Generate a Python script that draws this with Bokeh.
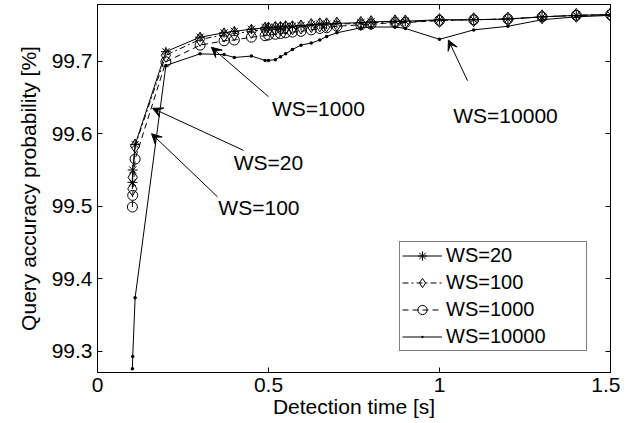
from bokeh.plotting import figure
from bokeh.models import (LinearAxis, FixedTicker, Range1d, Arrow, VeeHead, Legend,
                          LegendItem, ColumnDataSource)
from bokeh.core.properties import value
from bokeh.embed import file_html
from bokeh.resources import INLINE

# ---- data ----
detection_time = [0.102, 0.103, 0.11, 0.2, 0.3, 0.37, 0.4, 0.45, 0.49, 0.5, 0.52, 0.535,
                  0.55, 0.57, 0.595, 0.625, 0.65, 0.67, 0.7, 0.77, 0.8, 0.87, 0.9, 1.0,
                  1.1, 1.2, 1.3, 1.4, 1.5]
ws20 = [99.533, 99.550, 99.585, 99.713, 99.733, 99.739, 99.741, 99.744, 99.746, 99.746,
        99.747, 99.747, 99.748, 99.748, 99.749, 99.750, 99.751, 99.751, 99.752, 99.753,
        99.754, 99.755, 99.755, 99.757, 99.757, 99.758, 99.761, 99.763, 99.764]
ws100 = [99.524, 99.540, 99.583, 99.708, 99.730, 99.736, 99.738, 99.741, 99.744, 99.744,
         99.745, 99.745, 99.746, 99.746, 99.747, 99.749, 99.750, 99.750, 99.751, 99.752,
         99.753, 99.754, 99.754, 99.756, 99.757, 99.758, 99.761, 99.763, 99.764]
ws1000 = [99.499, 99.515, 99.565, 99.699, 99.722, 99.728, 99.729, 99.733, 99.735, 99.736,
          99.737, 99.738, 99.739, 99.740, 99.741, 99.743, 99.745, 99.746, 99.748, 99.750,
          99.751, 99.753, 99.753, 99.756, 99.757, 99.758, 99.761, 99.763, 99.764]
ws10000 = [99.276, 99.293, 99.374, 99.694, 99.710, 99.709, 99.705, 99.707, 99.701, 99.701,
           99.702, 99.706, 99.710, 99.716, 99.722, 99.725, 99.729, 99.734, 99.739, 99.746,
           99.747, 99.747, 99.745, 99.730, 99.743, 99.748, 99.757, 99.761, 99.763]
series_names = ["WS=20", "WS=100", "WS=1000", "WS=10000"]

x_ticks = [0, 0.5, 1, 1.5]
x_tick_labels = ["0", "0.5", "1", "1.5"]
y_ticks = [99.3, 99.4, 99.5, 99.6, 99.7]
y_tick_labels = ["99.3", "99.4", "99.5", "99.6", "99.7"]

# annotations: label text, label position, arrow tail, arrow tip (data units)
ann_text = ["WS=20", "WS=100", "WS=1000", "WS=10000"]
ann_x = [0.50, 0.472, 0.646, 1.193]
ann_y = [99.560, 99.498, 99.635, 99.625]
arr_x0 = [0.427, 0.351, 0.500, 1.082]
arr_y0 = [99.577, 99.513, 99.651, 99.673]
arr_x1 = [0.161, 0.158, 0.333, 1.026]
arr_y1 = [99.635, 99.600, 99.719, 99.729]

FONT = "Liberation Sans"

p = figure(frame_width=513, frame_height=368,
           x_range=Range1d(0, 1.5), y_range=Range1d(99.271, 99.778),
           output_backend="svg", toolbar_location=None,
           min_border_left=97, min_border_right=10, min_border_top=4,
           min_border_bottom=0, background_fill_color="white",
           border_fill_color="white")
p.grid.visible = False
p.outline_line_color = "black"
p.outline_line_width = 1


def style_axis(ax, ticks, labels, show_labels):
    ax.ticker = FixedTicker(ticks=ticks)
    ax.major_tick_in = 5
    ax.major_tick_out = 0
    ax.minor_tick_line_color = None
    ax.axis_line_color = "black"
    ax.major_tick_line_color = "black"
    if show_labels:
        ax.major_label_overrides = {t: l for t, l in zip(ticks, labels)}
        ax.major_label_text_font = FONT
        ax.major_label_text_font_size = "21px"
        ax.major_label_text_color = "black"
        ax.major_label_standoff = 5
        ax.axis_label_text_font = FONT
        ax.axis_label_text_font_size = "21px"
        ax.axis_label_text_font_style = "normal"
        ax.axis_label_text_color = "black"
    else:
        ax.major_label_overrides = {t: "" for t in ticks}
        ax.major_label_text_font_size = "0px"
        ax.major_label_standoff = 0


style_axis(p.xaxis[0], x_ticks, x_tick_labels, True)
p.xaxis[0].axis_label = "Detection time [s]"
p.xaxis[0].axis_label_standoff = 0
style_axis(p.yaxis[0], y_ticks, y_tick_labels, True)
p.yaxis[0].axis_label = "Query accuracy probability [%]"
p.yaxis[0].axis_label_standoff = 9

top = LinearAxis()
style_axis(top, x_ticks, x_tick_labels, False)
p.add_layout(top, "above")
right = LinearAxis()
style_axis(right, y_ticks, y_tick_labels, False)
p.add_layout(right, "right")

items = []
# WS=20: solid with asterisks
l1 = p.line(detection_time, ws20, line_color="black", line_width=1)
m1 = p.scatter(detection_time, ws20, marker="asterisk", size=10, line_color="black",
               line_width=1)
items.append(LegendItem(label=series_names[0], renderers=[l1, m1]))
# WS=100: dash-dot with diamonds
l2 = p.line(detection_time, ws100, line_color="black", line_width=1, line_dash="6 3 2 3")
m2 = p.scatter(detection_time, ws100, marker="diamond", size=14, line_color="black",
               fill_alpha=0, line_width=1)
items.append(LegendItem(label=series_names[1], renderers=[l2, m2]))
# WS=1000: dashed with circles
l3 = p.line(detection_time, ws1000, line_color="black", line_width=1, line_dash="6 4")
m3 = p.scatter(detection_time, ws1000, marker="circle", size=10, line_color="black",
               fill_alpha=0, line_width=1)
items.append(LegendItem(label=series_names[2], renderers=[l3, m3]))
# WS=10000: solid with small dots
l4 = p.line(detection_time, ws10000, line_color="black", line_width=1)
m4 = p.scatter(detection_time, ws10000, marker="dot", size=14, line_color="black",
               fill_color="black", line_width=1)
items.append(LegendItem(label=series_names[3], renderers=[l4, m4]))

legend = Legend(items=items, location=(302, 21), border_line_color="black",
                border_line_width=1, background_fill_color="white",
                background_fill_alpha=1, padding=2, spacing=4, margin=0,
                glyph_height=23, glyph_width=40, label_height=20, label_standoff=4,
                label_width=138, label_text_font=FONT, label_text_font_size="20px",
                label_text_color="black")
p.add_layout(legend)

# annotations
p.text(x=ann_x, y=ann_y, text=ann_text, text_font=value(FONT),
       text_font_size=value("21px"), text_align="center", text_baseline="middle",
       text_color="black")
arr_src = ColumnDataSource(dict(x0=arr_x0, y0=arr_y0, x1=arr_x1, y1=arr_y1))
p.add_layout(Arrow(end=VeeHead(size=10, fill_color="black", line_color="black",
                               line_width=1),
                   x_start="x0", y_start="y0", x_end="x1", y_end="y1",
                   source=arr_src, line_color="black", line_width=1))

open("out.html", "w").write(file_html(p, INLINE))
